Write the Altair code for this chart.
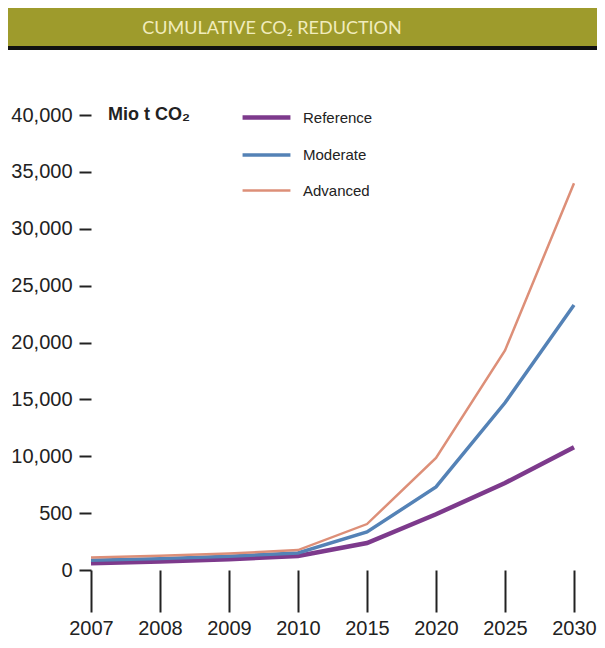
import altair as alt
import pandas as pd

# ---- data ----
years = ["2007", "2008", "2009", "2010", "2015", "2020", "2025", "2030"]
reference = [600, 750, 950, 1230, 2370, 4900, 7650, 10800]
moderate = [850, 1000, 1200, 1500, 3340, 7300, 14700, 23300]
advanced = [1100, 1250, 1450, 1750, 4040, 9850, 19300, 34000]
series = ["Reference", "Moderate", "Advanced"]
colors = ["#7d3a8c", "#5482b6", "#dd8f78"]
widths = [4.5, 2.5, 2.5]
y_ticks = [0, 5000, 10000, 15000, 20000, 25000, 30000, 35000, 40000]
y_labels = ["0", "500", "10,000", "15,000", "20,000", "25,000", "30,000", "35,000", "40,000"]
title_text = "CUMULATIVE CO\u2082 REDUCTION"
unit_text = "Mio t CO\u2082"

rows = []
for name, vals in zip(series, [reference, moderate, advanced]):
    for yr, v in zip(years, vals):
        rows.append({"year": yr, "series": name, "value": v})
df = pd.DataFrame(rows)

label_expr = " : ".join(
    f"datum.value == {v} ? '{l}'" for v, l in zip(y_ticks, y_labels)
) + " : ''"

FONT = "Liberation Sans"
INK = "#222222"

# ---- header bar (drawn above the plot area) ----
hdf = pd.DataFrame({"t": [title_text]})
header_bar = alt.Chart(hdf).mark_rect(color="#9e9b2c").encode(
    x=alt.value(-83), x2=alt.value(514), y=alt.value(-107), y2=alt.value(-65)
)
header_rule = alt.Chart(hdf).mark_rule(color="#111111", strokeWidth=4).encode(
    x=alt.value(-83), x2=alt.value(514), y=alt.value(-67)
)
header_text = alt.Chart(hdf).mark_text(
    font="Lato", fontSize=18, color="#f1ecbd", align="center", baseline="middle"
).encode(text="t:N", x=alt.value(181), y=alt.value(-86))

# ---- main chart ----
lines = alt.Chart(df).mark_line().encode(
    x=alt.X(
        "year:O", sort=years,
        scale=alt.Scale(type="point", padding=0),
        axis=alt.Axis(
            title=None, labelAngle=0, domain=False, tickSize=42, tickWidth=2,
            tickColor=INK, labelPadding=6, labelFontSize=20, labelFont=FONT,
            labelColor=INK,
        ),
    ),
    y=alt.Y(
        "value:Q",
        scale=alt.Scale(domain=[0, 40000], nice=False),
        axis=alt.Axis(
            title=None, values=y_ticks, labelExpr=label_expr, domain=False,
            grid=False, tickSize=12, tickWidth=2, tickColor=INK, labelPadding=7,
            labelFontSize=20, labelFont=FONT, labelColor=INK,
        ),
    ),
    color=alt.Color(
        "series:N", sort=series,
        scale=alt.Scale(domain=series, range=colors),
        legend=alt.Legend(
            title=None, orient="none", legendX=155, legendY=-18,
            symbolType="M-1.33,0L1.33,0", symbolSize=1296, symbolStrokeWidth=3,
            labelFontSize=15, labelFont=FONT, labelColor=INK, labelOffset=16,
            rowPadding=8, padding=0,
        ),
    ),
    strokeWidth=alt.StrokeWidth(
        "series:N", scale=alt.Scale(domain=series, range=widths), legend=None
    ),
)

unit = alt.Chart(pd.DataFrame({"t": [unit_text]})).mark_text(
    font=FONT, fontSize=18, fontWeight="bold", color=INK, align="left",
    baseline="middle",
).encode(text="t:N", x=alt.value(17), y=alt.value(0))

chart = alt.layer(header_bar, header_rule, header_text, lines, unit).properties(
    width=483, height=455,
    autosize=alt.AutoSizeParams(type="none"),
    padding={"left": 83, "top": 107, "right": 23, "bottom": 70},
).configure(background="white").configure_view(strokeWidth=0)

chart.save("out.html", embed_options={"renderer": "svg", "actions": False})
